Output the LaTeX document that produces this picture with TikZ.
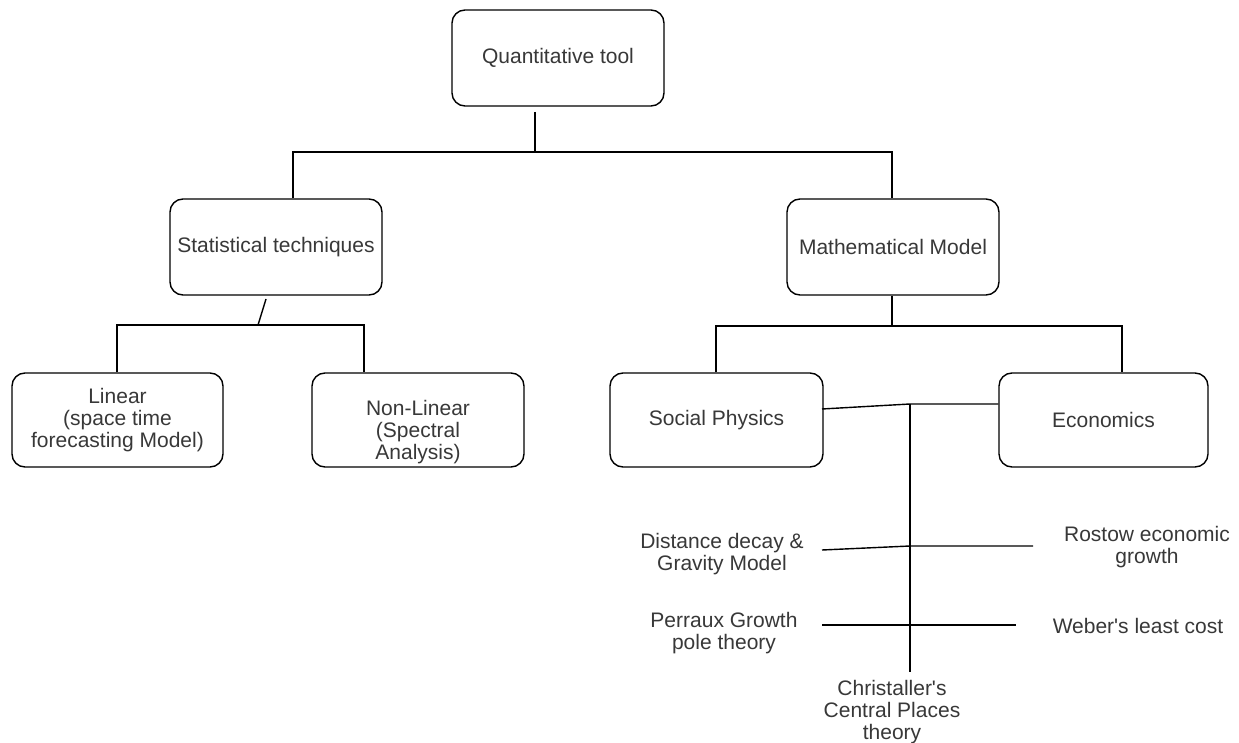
\documentclass[tikz,border=0pt]{standalone}
\usepackage{fontspec}
\newfontfamily\arialf{Liberation Sans}
\definecolor{txt}{HTML}{383838}
\begin{document}
\begin{tikzpicture}[x=1pt,y=-1pt,
  box/.style={draw=black, line width=1.4pt, rounded corners=13pt, text=txt, font=\arialf\fontsize{21}{21.7}\selectfont, align=center, minimum width=212pt, minimum height=95pt, inner sep=0pt},
  lbl/.style={text=txt, font=\arialf\fontsize{21}{21.7}\selectfont, align=center, inner sep=0pt},
  conn/.style={draw=black, line width=1.4pt}]
\useasboundingbox[fill=white] (0,0) rectangle (1239,743);
% boxes
\node[box, minimum height=96pt] (qt) at (558,58) {Quantitative tool};
\node[box, minimum height=96pt] (st) at (276,247) {Statistical techniques};
\node[box, minimum height=96pt] (mm) at (893,247) {Mathematical Model};
\node[box, minimum width=211pt, minimum height=94pt] (lin) at (117.5,420) {Linear\\(space time\\forecasting Model)};
\node[box, minimum height=94pt] (nl) at (418,420) {};
\node[lbl] (nltxt) at (418,432) {Non-Linear\\(Spectral\\Analysis)};
\node[box, minimum width=213pt, minimum height=94pt] (sp) at (716.5,420) {Social Physics};
\node[box, minimum width=209pt, minimum height=94pt] (ec) at (1103.5,420) {Economics};
% text labels
\node[lbl] (dd) at (722,554) {Distance decay \&\\Gravity Model};
\node[lbl] (ro) at (1147,547) {Rostow economic\\growth};
\node[lbl] (pe) at (724,633) {Perraux Growth\\pole theory};
\node[lbl] (we) at (1138,626) {Weber's least cost};
\node[lbl] (ch) at (892,712) {Christaller's\\Central Places\\theory};
% coordinates
\coordinate (t1) at (535,112);
\coordinate (t2) at (535,152);
\coordinate (stj) at (293,152);
\coordinate (mmj) at (892,152);
\coordinate (s1) at (266,299);
\coordinate (s2) at (258,325);
\coordinate (linj) at (117,325);
\coordinate (nlj) at (364,325);
\coordinate (m2) at (892,326);
\coordinate (spj) at (716,326);
\coordinate (ecj) at (1122,326);
\coordinate (sp1) at (822,409);
\coordinate (j) at (910,404);
\coordinate (vend) at (910,672);
\coordinate (dd1) at (822,550);
\coordinate (dd2) at (910,546);
\coordinate (ro1) at (1033,546);
\coordinate (pe1) at (822,625);
\coordinate (we1) at (1016,625);
% connectors
\draw[conn] (t1) -- (t2);
\draw[conn] (stj |- st.north) -- (stj) -- (mmj) -- (mmj |- mm.north);
\draw[conn] (s1) -- (s2);
\draw[conn] (linj |- lin.north) -- (linj) -- (nlj) -- (nlj |- nl.north);
\draw[conn] (m2 |- mm.south) -- (m2);
\draw[conn] (spj |- sp.north) -- (spj) -- (ecj) -- (ecj |- ec.north);
\draw[conn] (sp1) -- (j) -- (j -| ec.west);
\draw[conn] (j) -- (vend);
\draw[conn] (dd1) -- (dd2) -- (ro1);
\draw[conn] (pe1) -- (we1);
\end{tikzpicture}
\end{document}
